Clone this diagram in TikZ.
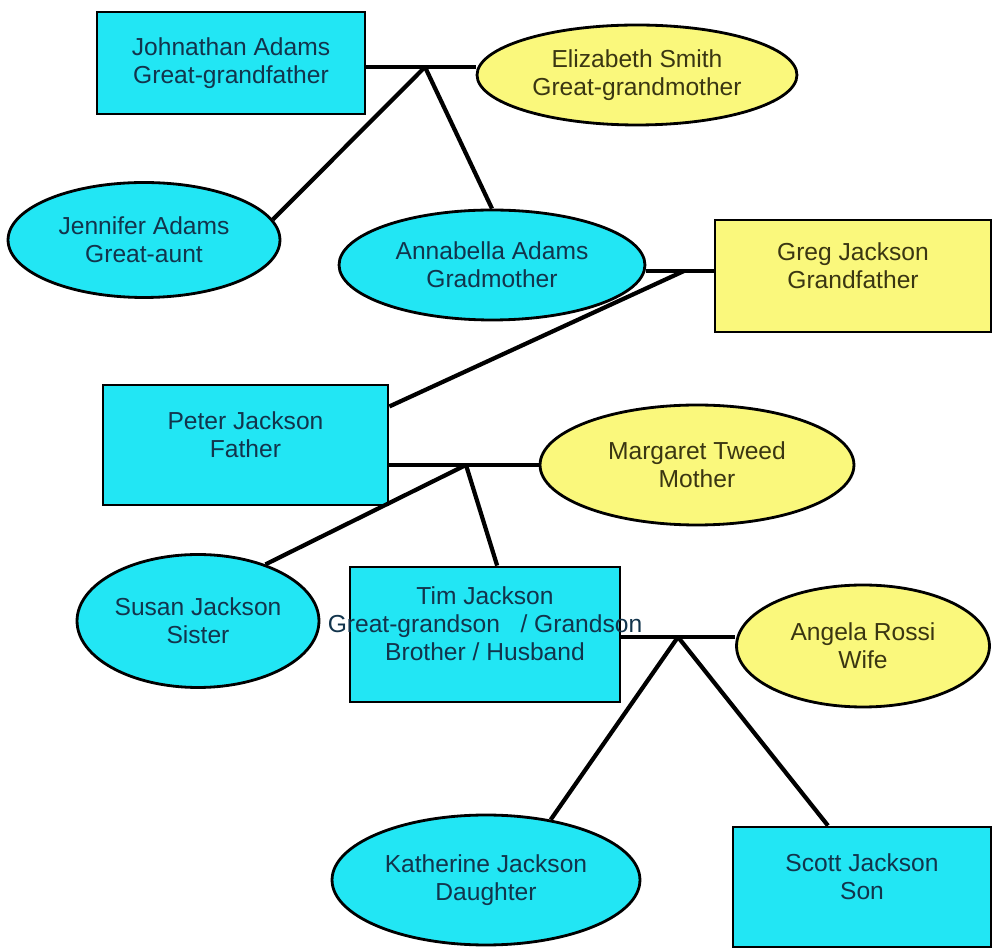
\documentclass[tikz,border=0pt]{standalone}
\usepackage{fontspec}
\setmainfont{Liberation Sans}
\usetikzlibrary{shapes.geometric}

\definecolor{kincyan}{RGB}{34,230,244}
\definecolor{inlawyellow}{RGB}{250,248,124}
\definecolor{kintext}{RGB}{18,52,76}
\definecolor{inlawtext}{RGB}{58,54,18}

\begin{document}
\begin{tikzpicture}[
  x=0.02cm, y=-0.02cm,
  font=\fontsize{14}{16}\selectfont,
  person/.style={draw,line width=1.6pt,align=center,inner sep=1pt},
  manbox/.style={person,rectangle},
  raised/.style={text depth=12pt},
  womanbox/.style={person,ellipse},
  kin/.style={fill=kincyan,text=kintext},
  inlaw/.style={fill=inlawyellow,text=inlawtext},
  tie/.style={line width=2.4pt}
]

\useasboundingbox (0,0) rectangle (992,952);

% -------------------------
% Junctions (one per couple)
% -------------------------
\coordinate (j1) at (425,67);
\coordinate (j2) at (684,271);
\coordinate (j3) at (466,465);
\coordinate (j4) at (678,637);

% -------------------------
% People
% -------------------------

% great-grandparents
\node[manbox,kin,minimum width=5.36cm,minimum height=2.04cm] (john) at (231,63) {Johnathan Adams\\Great-grandfather};
\node[womanbox,inlaw,minimum width=6.4cm,minimum height=2.0cm] (eliz) at (637,75) {Elizabeth Smith\\Great-grandmother};

% their daughters, and Greg
\node[womanbox,kin,minimum width=5.44cm,minimum height=2.3cm] (jen) at (144,240) {Jennifer Adams\\Great-aunt};
\node[womanbox,kin,minimum width=6.12cm,minimum height=2.2cm] (anna) at (492,265) {Annabella Adams\\Gradmother};
\node[manbox,raised,inlaw,minimum width=5.52cm,minimum height=2.24cm] (greg) at (853,276) {Greg Jackson\\Grandfather};

% parents
\node[manbox,raised,kin,minimum width=5.7cm,minimum height=2.4cm] (peter) at (245.5,445) {Peter Jackson\\Father};
\node[womanbox,inlaw,minimum width=6.28cm,minimum height=2.4cm] (marg) at (697,465) {Margaret Tweed\\Mother};

% Tim, his sister and his wife
\node[womanbox,kin,minimum width=4.84cm,minimum height=2.66cm] (susan) at (198,621) {Susan Jackson\\Sister};
\node[manbox,raised,kin,minimum width=5.4cm,minimum height=2.7cm] (tim) at (485,634.5)
  {Tim Jackson\\\makebox[0pt]{Great-grandson~~~/ Grandson}\\Brother / Husband};
\node[womanbox,inlaw,minimum width=5.06cm,minimum height=2.44cm] (angela) at (863,646) {Angela Rossi\\Wife};

% children
\node[womanbox,kin,minimum width=6.16cm,minimum height=2.6cm] (kath) at (486,880) {Katherine Jackson\\Daughter};
\node[manbox,raised,kin,minimum width=5.16cm,minimum height=2.4cm] (scott) at (862,887) {Scott Jackson\\Son};

% -------------------------
% Couples and children
% -------------------------
\draw[tie] (john.east |- j1) -- (j1) -- (eliz.west |- j1);
\draw[tie] (j1) -- (jen.9);
\draw[tie] (j1) -- (anna.north);

\draw[tie] (anna.east |- j2) -- (j2) -- (greg.west |- j2);
\draw[tie] (j2) -- (peter.15);

\draw[tie] (peter.east |- j3) -- (j3) -- (marg.west);
\draw[tie] (j3) -- (susan.40);
\draw[tie] (j3) -- (tim.80);

\draw[tie] (tim.east |- j4) -- (j4) -- (angela.west |- j4);
\draw[tie] (j4) -- (kath.43);
\draw[tie] (j4) -- (scott.119);

\end{tikzpicture}
\end{document}
